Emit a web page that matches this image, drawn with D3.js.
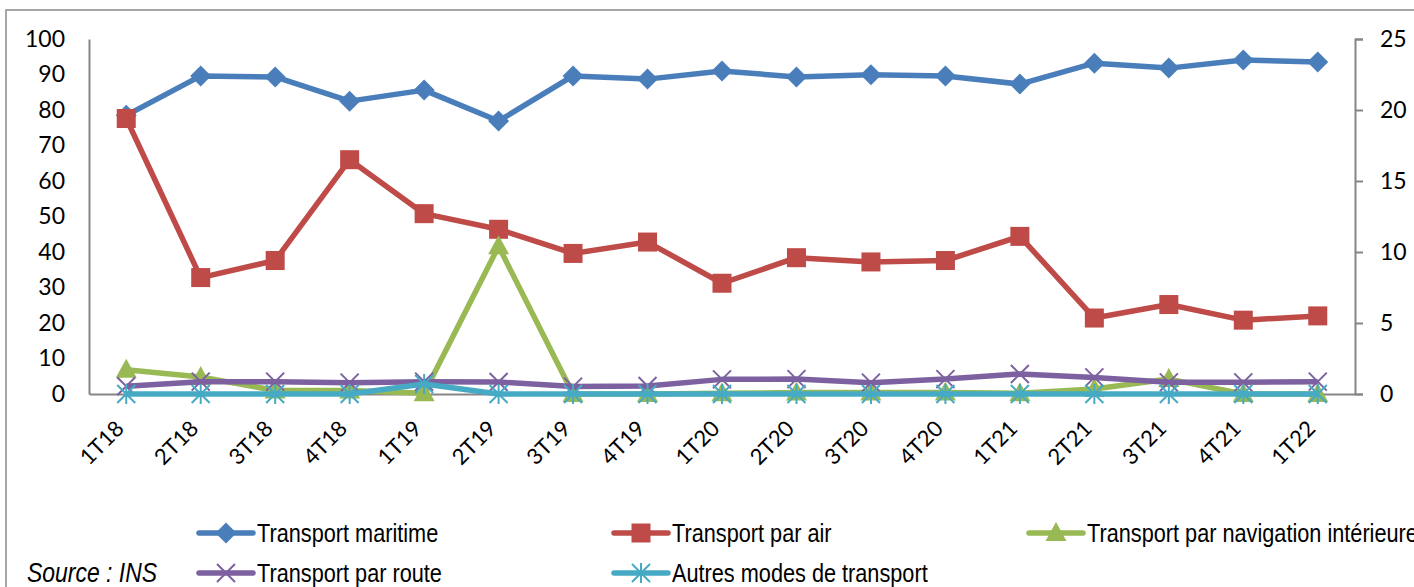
<!DOCTYPE html>
<html><head><meta charset="utf-8">
<script src="https://cdn.jsdelivr.net/npm/d3@7"></script>
<style>body{margin:0;background:#fff;overflow:hidden}svg{display:block}</style>
</head><body>
<script>
const categories = ["1T18","2T18","3T18","4T18","1T19","2T19","3T19","4T19","1T20","2T20","3T20","4T20","1T21","2T21","3T21","4T21","1T22"];
const maritime   = [78.5,89.6,89.3,82.5,85.6,76.9,89.6,88.7,91.0,89.3,89.9,89.6,87.3,93.2,91.8,94.1,93.5];
const air        = [19.4,8.2,9.4,16.5,12.7,11.6,9.9,10.7,7.8,9.6,9.3,9.4,11.1,5.35,6.3,5.2,5.5];
const navigation = [1.7,1.2,0.25,0.25,0.05,10.4,0,0,0.05,0.1,0.1,0.1,0.05,0.35,1.05,0,0];
const route      = [0.55,0.87,0.87,0.8,0.87,0.85,0.52,0.56,1.03,1.05,0.8,1.05,1.41,1.17,0.82,0.82,0.87];
const autres     = [0,0,0,0,0.7,0,0,0,0,0,0,0,0,0,0,0,0];
const leftTicks  = [0,10,20,30,40,50,60,70,80,90,100];
const rightTicks = [0,5,10,15,20,25];
const seriesNames = ["Transport maritime","Transport par air","Transport par navigation intérieure","Transport par route","Autres modes de transport"];
const sourceText = "Source : INS";

const W = 1414, H = 587;
const m = {l:89, r:1355, t:39, b:394};
const svg = d3.select("body").append("svg").attr("width",W).attr("height",H);

svg.append("rect").attr("x",6).attr("y",10).attr("width",1430).attr("height",600)
  .attr("fill","none").attr("stroke","#8a8a8a").attr("stroke-width",1.5);

const x = d3.scaleBand().domain(categories).range([m.l,m.r]);
const cx = c => x(c) + x.bandwidth()/2;
const yL = d3.scaleLinear().domain([0,100]).range([m.b,m.t]);
const yR = d3.scaleLinear().domain([0,25]).range([m.b,m.t]);

const axisColor = "#868686";
const tickFont = "Lato, 'Open Sans', sans-serif";

const gL = svg.append("g").attr("transform",`translate(${m.l},0)`)
  .call(d3.axisLeft(yL).tickValues(leftTicks).tickSize(0).tickPadding(24));
const gR = svg.append("g").attr("transform",`translate(${m.r},0)`)
  .call(d3.axisRight(yR).tickValues(rightTicks).tickSize(8).tickPadding(17));
const gX = svg.append("g").attr("transform",`translate(0,${m.b})`)
  .call(d3.axisBottom(x).tickSize(0).tickFormat(""));
[gL,gR,gX].forEach(g=>{
  g.select(".domain").attr("stroke",axisColor).attr("stroke-width",2);
  g.selectAll(".tick line").attr("stroke",axisColor).attr("stroke-width",2);
  g.selectAll("text").attr("font-family",tickFont).attr("font-size",23).attr("fill","#000");
});

svg.append("g").selectAll("text").data(categories).join("text")
  .attr("transform",d=>`translate(${cx(d)-1},${m.b+36}) rotate(-45)`)
  .attr("text-anchor","end").attr("font-family",tickFont).attr("font-size",22)
  .text(d=>d);

const series = [
  {name:seriesNames[0], vals:maritime,   y:yL, color:"#4A7EBB", marker:"diamond"},
  {name:seriesNames[1], vals:air,        y:yR, color:"#BE4B48", marker:"square"},
  {name:seriesNames[2], vals:navigation, y:yR, color:"#98B954", marker:"triangle"},
  {name:seriesNames[3], vals:route,      y:yR, color:"#7D60A0", marker:"x"},
  {name:seriesNames[4], vals:autres,     y:yR, color:"#46AAC5", marker:"star"}
];

function drawMarker(g, type, color){
  if(type==="diamond"){
    g.append("path").attr("d","M0,-10.5L10.5,0L0,10.5L-10.5,0Z").attr("fill",color);
  } else if(type==="square"){
    g.append("rect").attr("x",-9.5).attr("y",-9.5).attr("width",19).attr("height",19).attr("fill",color);
  } else if(type==="triangle"){
    g.append("path").attr("d","M0,-11L10.5,8L-10.5,8Z").attr("fill",color);
  } else if(type==="x"){
    g.append("path").attr("d","M-9,-9L9,9M-9,9L9,-9").attr("stroke",color).attr("stroke-width",2).attr("fill","none");
  } else if(type==="star"){
    g.append("path").attr("d","M-9,-9L9,9M-9,9L9,-9M0,-10L0,10").attr("stroke",color).attr("stroke-width",2).attr("fill","none");
  }
}

series.forEach(s=>{
  const line = d3.line().x((d,i)=>cx(categories[i])).y(d=>s.y(d));
  const g = svg.append("g");
  g.append("path").datum(s.vals).attr("d",line).attr("fill","none")
    .attr("stroke",s.color).attr("stroke-width",5.5).attr("stroke-linejoin","round");
  s.vals.forEach((v,i)=>{
    const mg = g.append("g").attr("transform",`translate(${cx(categories[i])},${s.y(v)})`);
    drawMarker(mg, s.marker, s.color);
  });
});

// legend
const legFont = "'Liberation Sans',Arial,sans-serif";
const legPos = [[197,533],[612,533],[1027,533],[197,573],[612,573]];
series.forEach((s,i)=>{
  const [lx,ly] = legPos[i];
  const g = svg.append("g").attr("transform",`translate(${lx},${ly})`);
  g.append("line").attr("x1",2).attr("x2",56).attr("y1",0).attr("y2",0)
    .attr("stroke",s.color).attr("stroke-width",5.5).attr("stroke-linecap","round");
  const mg = g.append("g").attr("transform","translate(29,0)");
  drawMarker(mg, s.marker, s.color);
  g.append("text").attr("transform","translate(60,9) scale(0.835,1)")
    .attr("font-family",legFont).attr("font-size",26).text(s.name);
});
svg.append("text").attr("transform","translate(27,582) scale(0.85,1)")
  .attr("font-family",legFont).attr("font-style","italic").attr("font-size",27).text(sourceText);
</script>
</body></html>
